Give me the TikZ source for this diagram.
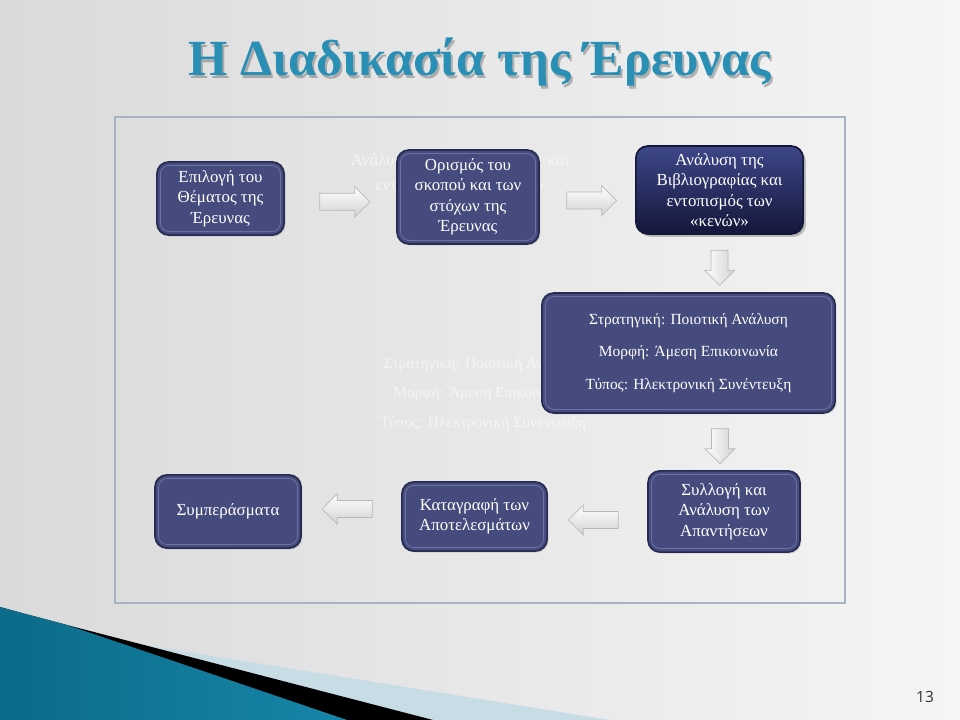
\documentclass[tikz,border=0pt]{standalone}
\usepackage{fontspec}
\setmainfont{Liberation Serif}
\newfontfamily\numfont{Open Sans}
\usepackage{xcolor}
\usetikzlibrary{shapes.arrows, shadows, calc}
\definecolor{slate}{HTML}{454B7C}
\definecolor{slatedark}{HTML}{272B52}
\definecolor{slateline}{HTML}{6A70A2}
\definecolor{navytop}{HTML}{3D4788}
\definecolor{navybot}{HTML}{14173A}
\definecolor{titleteal}{HTML}{2A8FB5}
\definecolor{framegray}{HTML}{A9B3C6}
\definecolor{tealdark}{HTML}{0B6B88}
\definecolor{teallight}{HTML}{4DB6D8}
\definecolor{tealmid}{HTML}{1686A8}
\definecolor{paleblue}{HTML}{C7DCE5}
\definecolor{bgleft}{HTML}{DADADA}
\definecolor{bgright}{HTML}{F5F5F5}

\begin{document}
\begin{tikzpicture}[
    x=0.025cm, y=-0.025cm,
    font=\fontsize{12}{14.5}\selectfont,
    stage/.style={draw=slatedark, line width=1.2pt, rounded corners=0.3cm, fill=slate,
        text=white, align=center,
        drop shadow={opacity=0.25, shadow xshift=1pt, shadow yshift=-1pt},
        path picture={\draw[slateline, line width=0.6pt, rounded corners=0.22cm]
            ([shift={(2.5pt,2.5pt)}]path picture bounding box.south west) rectangle
            ([shift={(-2.5pt,-2.5pt)}]path picture bounding box.north east);}},
    navystage/.style={stage, path picture={}, top color=navytop, bottom color=navybot,
        draw=navybot, drop shadow={opacity=0.45, shadow xshift=2pt, shadow yshift=-2pt}},
    blockarrow/.style={single arrow, draw=gray!55, line width=0.5pt, inner sep=0.2cm,
        minimum height=1.25cm, minimum width=0.75cm, single arrow head extend=0.16cm},
    harrow/.style={blockarrow, top color=white, bottom color=gray!35},
    varrow/.style={blockarrow, left color=white, right color=gray!35,
        shape border rotate=270, minimum height=0.875cm},
    ghost/.style={text=white, opacity=0.6, align=center}
]
\useasboundingbox (0,0) rectangle (960,720);

% background and frame
\shade[left color=bgleft, right color=bgright] (0,0) rectangle (960,720);
\draw[framegray, line width=1.6pt] (115,117) rectangle (845,603);

% title
\node[font=\fontsize{36}{40}\bfseries\selectfont, text=black, opacity=0.25] (titleshadow) at (482,65) {Η Διαδικασία της Έρευνας};
\node[font=\fontsize{36}{40}\bfseries\selectfont, text=titleteal] (title) at (480,62) {Η Διαδικασία της Έρευνας};

% faint leftovers behind the boxes
\node[ghost] (ghosttop) at (460,186) {Ανάλυση της Βιβλιογραφίας και\\[3pt]εντοπισμός των «κενών»\\[3pt]Έρευνας};
\node[ghost, font=\fontsize{11}{13}\selectfont] (ghostmid) at (483,394) {Στρατηγική: Ποιοτική Ανάλυση\\[8pt]Μορφή: Άμεση Επικοινωνία\\[8pt]Τύπος: Ηλεκτρονική Συνέντευξη};

% stages
\node[stage, minimum width=3.18cm, minimum height=1.83cm] (thema) at (220.5,198.5) {Επιλογή του\\Θέματος της\\Έρευνας};
\node[stage, minimum width=3.55cm, minimum height=2.35cm] (skopos) at (468,197) {Ορισμός του\\σκοπού και των\\στόχων της\\Έρευνας};
\node[navystage, minimum width=4.18cm, minimum height=2.2cm] (biblio) at (719.5,190) {Ανάλυση της\\Βιβλιογραφίας και\\εντοπισμός των\\«κενών»};
\node[stage, minimum width=7.33cm, minimum height=3cm, font=\fontsize{11}{13}\selectfont] (strategy) at (688.5,353) {Στρατηγική: Ποιοτική Ανάλυση\\[10pt]Μορφή: Άμεση Επικοινωνία\\[10pt]Τύπος: Ηλεκτρονική Συνέντευξη};
\node[stage, minimum width=3.8cm, minimum height=2.03cm] (syllogi) at (724,511.5) {Συλλογή και\\Ανάλυση των\\Απαντήσεων};
\node[stage, minimum width=3.63cm, minimum height=1.73cm] (katagrafi) at (474.5,516.5) {Καταγραφή των\\Αποτελεσμάτων};
\node[stage, minimum width=3.65cm, minimum height=1.83cm] (symper) at (228,511.5) {Συμπεράσματα};

% block arrows between the stages
\node[harrow] (ar1) at ($(thema.east)!0.5!(skopos.west)+(0,4)$) {};
\node[harrow] (ar2) at ($(skopos.east)!0.5!(biblio.west)+(0,7)$) {};
\node[varrow] (ar3) at ($(biblio.south)!0.5!(biblio.south|-strategy.north)$) {};
\node[varrow] (ar4) at ($(strategy.south-|syllogi.north)!0.5!(syllogi.north)+(-4,0)$) {};
\node[harrow, shape border rotate=180] (ar5) at ($(syllogi.west)!0.5!(katagrafi.east)+(0,6)$) {};
\node[harrow, shape border rotate=180] (ar6) at ($(katagrafi.west)!0.5!(symper.east)+(0,-5)$) {};

% corner decoration
\fill[paleblue] (0,607) .. controls (40,618) and (80,630) .. (120,641) -- (610,720) -- (0,720) -- cycle;
\fill[black] (0,607) .. controls (25,614) and (45,619) .. (67,625) -- (433,720) -- (0,720) -- cycle;
\shade[left color=tealdark, middle color=teallight, right color=tealmid]
    (0,607) .. controls (25,614) and (45,619) .. (67,625) -- (200,670) -- (347,720) -- (0,720) -- cycle;

\node[font=\numfont\fontsize{11}{12}\selectfont, text=black!80] (pagenum) at (925,697) {13};
\end{tikzpicture}
\end{document}
